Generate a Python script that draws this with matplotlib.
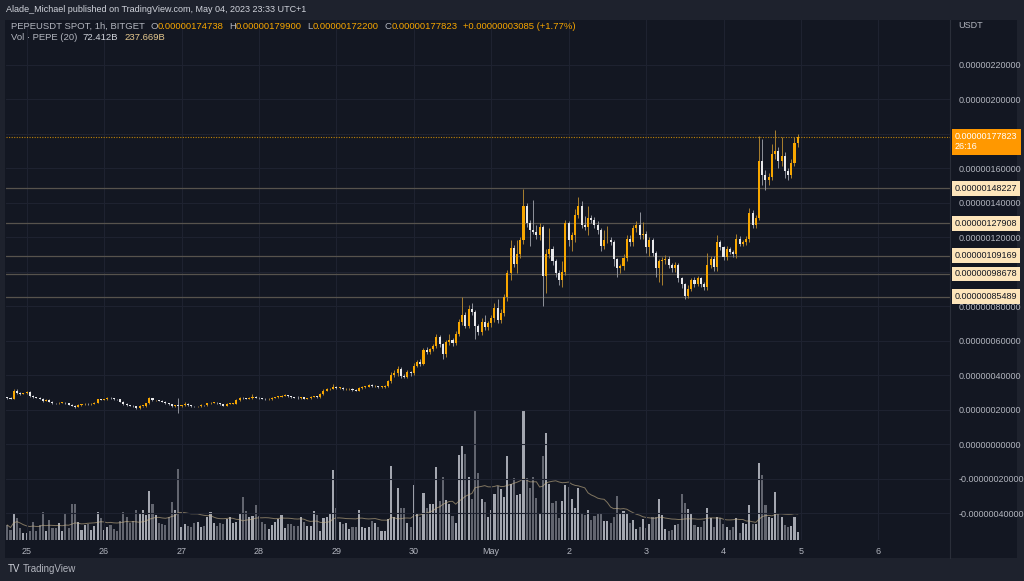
import numpy as np
import pandas as pd
import matplotlib
matplotlib.use("Agg")
import matplotlib.pyplot as plt
from matplotlib import font_manager, transforms
from matplotlib.patches import Rectangle
from matplotlib.lines import Line2D

# PEPEUSDT 1h candles, prices in units of 1e-8 USDT, first candle Apr 24 18:00
start_time = "2023-04-24 18:00"
first_open_e8 = 27.0
close_e8 = [
    26.5, 26.3, 31.0, 29.5, 29.0, 29.3, 30.0, 27.8, 27.0, 26.8,
    26.3, 25.0, 25.6, 24.6, 23.7, 23.6, 23.8, 23.9, 23.5, 22.8,
    22.3, 21.5, 22.5, 23.0, 23.2, 23.0, 23.3, 24.0, 25.8, 25.7,
    25.9, 26.8, 26.4, 26.0, 25.8, 24.5, 23.2, 22.6, 22.3, 21.8,
    20.8, 22.0, 22.0, 23.5, 26.5, 25.3, 25.3, 25.0, 24.5, 23.5,
    23.0, 22.0, 22.3, 22.0, 22.5, 23.3, 22.5, 22.0, 21.8, 22.0,
    22.6, 22.5, 23.5, 24.0, 24.0, 23.5, 23.0, 22.3, 23.3, 23.3,
    23.3, 25.5, 26.8, 26.5, 26.2, 26.6, 27.4, 26.8, 26.5, 26.2,
    25.8, 26.0, 26.7, 27.2, 27.4, 28.0, 28.3, 27.8, 27.0, 26.8,
    26.5, 27.0, 26.3, 26.4, 27.3, 27.5, 27.2, 28.8, 31.0, 31.8,
    32.0, 33.0, 32.5, 32.5, 31.7, 31.8, 32.0, 31.5, 31.0, 32.5,
    33.0, 33.3, 34.2, 33.5, 33.6, 33.0, 33.0, 33.5, 36.5, 40.0,
    41.0, 43.5, 39.5, 39.0, 41.5, 41.0, 45.5, 47.5, 46.6, 54.5,
    53.5, 54.8, 56.7, 62.3, 57.8, 52.0, 59.0, 60.5, 58.5, 64.0,
    70.5, 75.0, 68.5, 78.5, 76.5, 68.5, 65.0, 71.0, 68.0, 70.0,
    73.0, 79.0, 72.0, 76.0, 85.0, 99.0, 113.5, 104.5, 110.0, 118.0,
    138.0, 128.0, 124.0, 123.0, 121.0, 126.0, 97.5, 110.0, 113.0, 106.0,
    99.0, 95.0, 100.0, 128.0, 118.0, 121.0, 133.0, 137.7, 127.0, 126.0,
    131.0, 130.0, 127.0, 124.0, 115.0, 118.0, 118.5, 117.0, 107.0, 102.0,
    103.0, 108.0, 119.0, 117.0, 125.0, 127.0, 121.0, 122.0, 114.0, 118.0,
    111.0, 102.0, 106.0, 106.5, 107.5, 104.0, 102.0, 104.0, 96.0, 92.5,
    86.0, 90.0, 95.0, 93.0, 96.0, 93.0, 91.0, 103.8, 107.5, 102.5,
    117.0, 114.0, 108.5, 113.0, 111.5, 110.0, 119.0, 116.0, 117.0, 119.0,
    134.0, 127.0, 131.0, 164.0, 156.0, 153.0, 155.0, 168.0, 170.0, 164.0,
    167.0, 158.0, 156.0, 163.0, 174.738, 177.823,
]
upper_wick_e8 = [
    0.4, 0.5, 0.8, 1.0, 0.4, 0.4, 0.5, 0.5, 0.4, 0.3,
    0.4, 0.5, 0.4, 0.4, 0.3, 0.3, 0.3, 0.4, 0.3, 0.3,
    0.3, 0.4, 0.5, 0.4, 0.3, 0.3, 0.3, 0.4, 0.5, 0.4,
    0.4, 0.6, 0.4, 0.3, 0.3, 0.4, 0.3, 0.3, 0.3, 0.3,
    0.3, 0.5, 0.3, 0.4, 0.6, 0.4, 0.3, 0.3, 0.3, 0.3,
    0.3, 0.3, 0.4, 4.2, 0.4, 1.0, 0.3, 0.3, 0.3, 0.3,
    0.4, 0.3, 0.5, 0.4, 0.3, 0.3, 0.3, 0.3, 0.4, 0.3,
    0.3, 0.5, 0.5, 0.3, 0.3, 0.4, 1.5, 0.4, 0.3, 0.3,
    0.3, 0.4, 0.4, 0.3, 0.4, 0.4, 0.5, 0.3, 0.3, 0.3,
    1.2, 0.3, 0.4, 0.5, 0.4, 0.3, 0.4, 0.5, 0.6, 0.6,
    0.5, 1.8, 0.5, 0.4, 0.3, 0.4, 0.4, 0.3, 0.3, 0.5,
    0.5, 0.6, 0.8, 0.4, 0.5, 0.3, 0.4, 0.6, 0.8, 1.5,
    2.0, 1.5, 1.0, 0.8, 1.5, 0.8, 1.5, 1.0, 1.5, 1.0,
    1.5, 1.0, 1.5, 1.5, 1.0, 1.0, 1.5, 3.0, 1.0, 1.5,
    2.0, 10.5, 1.5, 2.0, 3.0, 1.0, 1.0, 2.0, 4.0, 1.5,
    2.0, 3.0, 5.0, 2.0, 2.0, 2.0, 4.5, 2.0, 8.0, 2.0,
    10.0, 2.0, 2.0, 17.6, 4.0, 2.0, 1.0, 3.0, 12.0, 2.0,
    1.0, 2.0, 6.0, 2.0, 1.5, 2.0, 3.0, 5.5, 3.0, 5.0,
    7.0, 2.0, 1.5, 2.0, 1.0, 6.0, 8.0, 1.5, 1.5, 1.0,
    1.5, 2.0, 2.0, 2.0, 2.0, 2.0, 7.5, 6.5, 1.5, 2.0,
    1.5, 1.0, 1.5, 2.0, 2.0, 1.5, 1.0, 1.5, 1.0, 1.0,
    1.0, 2.0, 1.5, 2.0, 1.5, 1.0, 1.0, 7.0, 1.5, 1.5,
    4.0, 1.5, 1.0, 2.0, 1.0, 1.0, 3.0, 1.5, 1.5, 1.5,
    3.0, 1.5, 1.5, 14.5, 13.0, 3.0, 2.0, 6.0, 12.0, 2.0,
    11.0, 2.0, 2.0, 2.0, 3.0, 2.077,
]
lower_wick_e8 = [
    0.4, 0.3, 0.3, 0.4, 0.4, 0.3, 0.4, 0.4, 0.3, 0.4,
    0.3, 0.4, 0.3, 0.4, 0.4, 0.3, 0.3, 0.3, 0.4, 0.4,
    0.4, 0.6, 0.3, 0.3, 0.3, 0.4, 0.3, 0.3, 0.3, 0.3,
    0.3, 0.3, 0.3, 0.4, 0.4, 0.4, 0.4, 0.3, 0.4, 0.4,
    0.6, 0.3, 0.4, 0.3, 0.3, 0.3, 0.4, 0.3, 0.3, 0.4,
    0.4, 0.4, 0.3, 4.0, 0.4, 0.3, 0.4, 0.3, 0.4, 0.3,
    0.3, 0.4, 0.3, 0.3, 0.3, 0.4, 0.3, 0.5, 0.3, 0.3,
    0.3, 0.3, 0.3, 0.3, 0.4, 0.3, 0.3, 0.4, 0.3, 0.3,
    0.4, 0.3, 0.3, 0.3, 0.3, 0.3, 0.3, 0.3, 0.4, 0.3,
    0.4, 0.4, 0.4, 0.3, 0.3, 0.3, 0.4, 0.3, 0.3, 0.4,
    0.5, 0.4, 0.4, 0.5, 0.5, 0.4, 0.3, 0.5, 0.5, 0.3,
    0.4, 0.3, 0.4, 0.5, 0.4, 0.4, 0.4, 0.3, 0.5, 1.0,
    1.0, 1.5, 1.5, 1.0, 1.0, 1.5, 1.0, 1.0, 1.5, 1.0,
    1.5, 1.5, 1.0, 1.0, 1.5, 2.5, 1.5, 1.5, 1.5, 1.0,
    1.5, 1.5, 1.5, 1.5, 1.5, 7.8, 2.0, 2.0, 2.0, 2.0,
    2.0, 2.0, 2.0, 2.0, 2.0, 2.0, 4.0, 2.0, 5.5, 2.0,
    2.0, 2.0, 9.0, 1.0, 2.0, 3.0, 17.5, 10.0, 2.0, 2.0,
    2.0, 3.0, 4.0, 2.0, 3.0, 6.0, 4.0, 2.0, 2.0, 2.0,
    5.0, 2.0, 2.0, 2.0, 3.0, 2.0, 1.5, 1.5, 4.0, 5.0,
    3.0, 2.0, 2.0, 2.0, 2.0, 2.0, 2.0, 2.0, 3.0, 5.0,
    2.0, 5.0, 8.0, 14.0, 2.0, 2.0, 2.0, 2.0, 2.0, 2.0,
    2.0, 1.5, 1.5, 2.0, 1.5, 2.0, 1.5, 1.5, 2.0, 2.0,
    2.0, 1.5, 2.0, 2.0, 1.5, 1.5, 2.0, 1.5, 1.5, 1.5,
    2.0, 2.0, 2.0, 1.0, 6.0, 6.0, 3.0, 2.0, 3.0, 4.0,
    3.0, 4.0, 3.0, 2.0, 2.0, 2.538,
]
# volume in billions of PEPE
volume_b = [
    137, 91, 244, 198, 107, 61, 64, 82, 165, 82,
    137, 256, 82, 183, 110, 110, 155, 82, 247, 110,
    329, 329, 165, 91, 137, 146, 91, 128, 256, 201,
    91, 119, 137, 101, 82, 174, 256, 210, 155, 174,
    274, 247, 274, 229, 448, 329, 229, 155, 146, 137,
    210, 347, 274, 649, 119, 146, 128, 119, 155, 165,
    119, 128, 210, 256, 155, 128, 155, 146, 192, 210,
    155, 165, 247, 393, 265, 210, 219, 320, 219, 165,
    146, 101, 137, 165, 192, 229, 110, 146, 146, 128,
    128, 210, 165, 128, 128, 265, 229, 82, 201, 210,
    247, 640, 292, 165, 146, 155, 101, 119, 119, 274,
    119, 110, 119, 174, 155, 119, 82, 82, 192, 676,
    210, 475, 292, 292, 155, 119, 503, 247, 210, 430,
    292, 329, 329, 667, 356, 576, 366, 329, 219, 155,
    777, 859, 786, 576, 375, 1188, 612, 375, 347, 210,
    274, 420, 494, 466, 393, 768, 512, 564, 411, 418,
    1188, 567, 475, 576, 384, 238, 768, 978, 512, 338,
    356, 201, 356, 503, 484, 375, 292, 475, 238, 229,
    274, 183, 219, 247, 238, 174, 174, 155, 210, 402,
    247, 265, 247, 155, 183, 101, 119, 192, 110, 146,
    210, 210, 375, 229, 101, 82, 91, 137, 146, 420,
    338, 283, 247, 137, 119, 119, 174, 292, 201, 119,
    210, 201, 146, 119, 91, 119, 201, 64, 155, 146,
    320, 146, 146, 704, 594, 320, 210, 201, 439, 247,
    210, 137, 119, 128, 210, 72.4,
]
level_e8 = [148.227, 127.908, 109.169, 98.678, 85.489]
price_ticks_e8 = list(range(-40, 221, 20))
countdown = "26:16"

names = {f.name for f in font_manager.fontManager.ttflist}
main_font = "Liberation Sans Narrow" if "Liberation Sans Narrow" in names else "Liberation Sans"
plt.rcParams["font.family"] = [main_font, "DejaVu Sans"]

W, H = 1024, 581
BG = "#131722"
FRAME = "#1e222d"
TXT = "#b2b5be"
UP = "#f7a600"
DOWN = "#e8e8ea"

closes = np.array(close_e8)
opens = np.concatenate([[first_open_e8], closes[:-1]])
highs = np.maximum(opens, closes) + np.array(upper_wick_e8)
lows = np.minimum(opens, closes) - np.array(lower_wick_e8)
vols = np.array(volume_b, dtype=float)
vol_ma = pd.Series(vols).rolling(20, min_periods=1).mean()
idx = np.arange(len(closes))
is_up = closes >= opens

fig = plt.figure(figsize=(W / 100, H / 100), dpi=100, facecolor=FRAME)
fig.add_artist(Rectangle((5 / W, 1 - 558 / H), (1017 - 5) / W, (558 - 20) / H,
                         transform=fig.transFigure, fc=BG, ec="none", zorder=-5))

rect = [6 / W, 1 - 540 / H, (950 - 6) / W, (540 - 20) / H]
ax_vol = fig.add_axes(rect)
ax = fig.add_axes(rect, sharex=ax_vol)
ax_vol.set_zorder(0)
ax.set_zorder(1)
ax.patch.set_visible(False)
ax_vol.set_facecolor(BG)

# volume pane
vol_colors = np.where(is_up, "#a4a7b0", "#62656f")
ax_vol.bar(idx, vols, width=0.65, color=vol_colors, linewidth=0)
ax_vol.plot(idx, vol_ma, color="#c9b48a", lw=0.7, alpha=0.6)
ax_vol.set_ylim(0, 4753)
ax_vol.axis("off")

# candles
wick_colors = np.where(is_up, "#a9802f", "#8f929b")
body_colors = np.where(is_up, UP, DOWN)
ax.vlines(idx, lows, highs, colors=wick_colors, lw=0.7, zorder=2)
body_lo = np.minimum(opens, closes)
body_h = np.maximum(np.abs(closes - opens), 0.35)
ax.bar(idx, body_h, bottom=body_lo, width=0.64, color=body_colors, linewidth=0, zorder=3)

for lv in level_e8:
    ax.axhline(lv, color="#57534d", lw=0.9, zorder=1)
ax.axhline(closes[-1], color=UP, lw=0.8, ls=(0, (1, 1.3)), alpha=0.75, zorder=1)

ax.set_xlim(-0.4, 292.2)
ax.set_ylim(-55.65, 245.8)

# time axis
times = pd.date_range(start_time, periods=300, freq="h")
mid = [(i, t) for i, t in enumerate(times) if t.hour == 0 and i < 292]
ax.set_xticks([i for i, _ in mid])
ax.set_xticklabels(["May" if t.day == 1 else str(t.day) for _, t in mid])
ax.tick_params(axis="x", length=0, pad=5, labelsize=6.5, labelcolor=TXT)


# price axis; the 1.0 label sits fully under the level boxes, as on TradingView
def price_fmt(v, pos):
    if abs(v - 100) < 1e-6:
        return ""
    return f"{v * 1e-8:.11f}"


ax.yaxis.tick_right()
ax.set_yticks(price_ticks_e8)
ax.yaxis.set_major_formatter(plt.FuncFormatter(price_fmt))
ax.tick_params(axis="y", length=0, pad=6, labelsize=6.5, labelcolor=TXT)
ax.grid(True, color="#1e2230", lw=0.8)
ax.set_axisbelow(True)
for s in ax.spines.values():
    s.set_visible(False)

fig.add_artist(Line2D([950 / W, 950 / W], [1 - 558 / H, 1 - 20 / H],
                      transform=fig.transFigure, color="#2a2e39", lw=0.8))

blend = transforms.blended_transform_factory(fig.transFigure, ax.transData)
for lv in level_e8:
    fig.text(955 / W, lv, f"{lv * 1e-8:.11f}", transform=blend, ha="left", va="center",
             fontsize=6.5, color="#131722", zorder=6,
             bbox=dict(boxstyle="square,pad=0.3", fc="#fde5bb", ec="none"))
ax.annotate(f"{closes[-1] * 1e-8:.11f}\n{countdown}", xy=(955 / W, closes[-1]), xycoords=blend,
            xytext=(0, 4), textcoords="offset points", ha="left", va="top",
            fontsize=6.5, color="white", linespacing=1.25, annotation_clip=False, zorder=6,
            bbox=dict(boxstyle="square,pad=0.35", fc="#ff9800", ec="none"))

fig.text(958 / W, 1 - 25 / H, "USDT", fontsize=6.5, color=TXT, va="center")


def text_row(x_px, y_px, pieces, size):
    prev = ax.annotate(pieces[0][0], xy=(x_px, H - y_px), xycoords="figure pixels",
                       fontsize=size, color=pieces[0][1], va="baseline", ha="left",
                       annotation_clip=False)
    for s, c, gap in pieces[1:]:
        prev = ax.annotate(s, xy=(1, 0), xycoords=prev, xytext=(gap, 0),
                           textcoords="offset points", fontsize=size, color=c,
                           va="bottom", ha="left", annotation_clip=False)


text_row(6, 12, [("Alade_Michael published on TradingView.com, May 04, 2023 23:33 UTC+1", "#d1d4dc", 0)], 6.5)
text_row(11, 29, [("PEPEUSDT SPOT, 1h, BITGET", TXT, 0),
                  ("O", TXT, 4), ("0.00000174738", UP, 0),
                  ("H", TXT, 4), ("0.00000179900", UP, 0),
                  ("L", TXT, 4), ("0.00000172200", UP, 0),
                  ("C", TXT, 4), ("0.00000177823", UP, 0),
                  ("+0.00000003085 (+1.77%)", UP, 4)], 6.8)
text_row(11, 40, [("Vol · PEPE (20)", TXT, 0), ("72.412B", "#d1d4dc", 4),
                  ("237.669B", "#e6c98f", 4)], 6.8)
text_row(8, 572, [("TV", "#d1d4dc", 0), ("TradingView", "#b2b5be", 2)], 7)

fig.savefig("out.png", dpi=100, facecolor=FRAME)
